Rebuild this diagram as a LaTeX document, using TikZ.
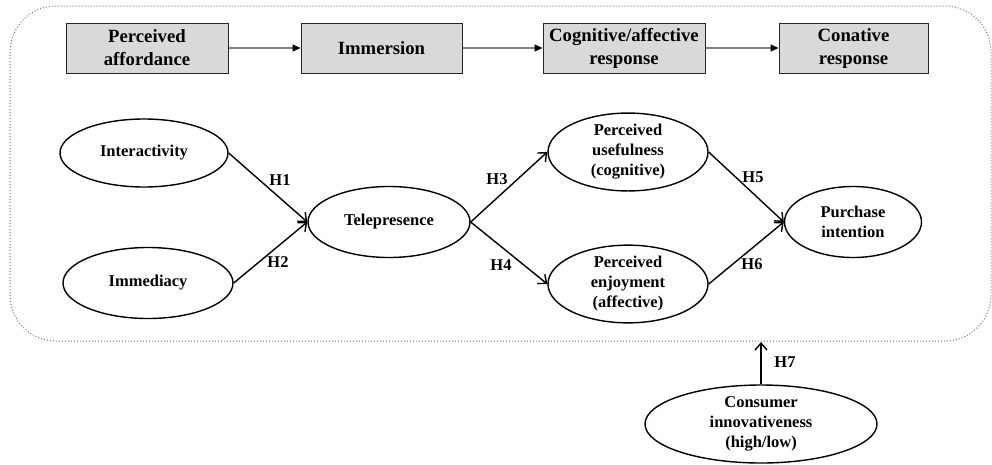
\documentclass[tikz,border=0pt]{standalone}
\usepackage{fontspec}
\setmainfont{Liberation Serif}
\usetikzlibrary{shapes.geometric,arrows.meta}
\begin{document}
\begin{tikzpicture}[x=1pt,y=-1pt,
 box/.style={draw=black!85, fill=gray!30, line width=1pt, minimum height=50pt, inner sep=0pt, align=center, font=\fontsize{18.7}{23}\selectfont\bfseries},
 ell/.style={draw, ellipse, line width=1.4pt, inner sep=0pt, align=center, font=\fontsize{16.5}{20}\selectfont\bfseries},
 hyp/.style={-{Straight Barb[length=7pt,width=12pt]}, line width=1.4pt},
 lab/.style={font=\fontsize{16.5}{18}\selectfont\bfseries},
 flow/.style={draw=gray, line width=1.2pt, -{Triangle[length=8pt,width=7pt,color=black]}},
 frame/.style={draw=black!55, dotted, line width=1pt, rounded corners=46pt}]
\useasboundingbox (0,0) rectangle (992,464);
\draw[frame] (10,6) rectangle (991,341);
% top flow boxes
\node[box, minimum width=162pt] (pa) at (147,48) {Perceived\\affordance};
\node[box, minimum width=161pt] (im) at (381.5,48) {Immersion};
\node[box, minimum width=162pt] (ca) at (624,48) {Cognitive/affective\\response};
\node[box, minimum width=149pt] (co) at (853.5,48) {Conative\\response};
\draw[flow] (pa) -- (im);
\draw[flow] (im) -- (ca);
\draw[flow] (ca) -- (co);
% constructs
\node[ell, minimum width=168pt, minimum height=68pt] (int) at (144,153) {Interactivity};
\node[ell, minimum width=170pt, minimum height=71pt] (imm) at (148,283) {Immediacy};
\node[ell, minimum width=162pt, minimum height=71pt] (tel) at (389,222) {Telepresence};
\node[ell, minimum width=160pt, minimum height=70pt] (pu) at (628,152) {Perceived\\usefulness\\(cognitive)};
\node[ell, minimum width=160pt, minimum height=72pt] (pe) at (628,284) {Perceived\\enjoyment\\(affective)};
\node[ell, minimum width=137pt, minimum height=71pt] (pi) at (853,222) {Purchase\\intention};
\node[ell, minimum width=232pt, minimum height=78pt] (ci) at (761,424) {Consumer\\innovativeness\\(high/low)};
\coordinate (h7end) at (761,342);
% hypotheses
\draw[hyp] (int.east) -- (tel.west);
\draw[hyp] (imm.east) -- (tel.west);
\draw[hyp] (tel.east) -- (pu.west);
\draw[hyp] (tel.east) -- (pe.west);
\draw[hyp] (pu.east) -- (pi.west);
\draw[hyp] (pe.east) -- (pi.west);
\draw[hyp] (ci.north) -- (h7end);
\node[lab] (h1) at (280,180) {H1};
\node[lab] (h2) at (278,262) {H2};
\node[lab] (h3) at (497,179) {H3};
\node[lab] (h4) at (501,265) {H4};
\node[lab] (h5) at (753,177) {H5};
\node[lab] (h6) at (752,264) {H6};
\node[lab] (h7) at (785,362) {H7};
\end{tikzpicture}
\end{document}
